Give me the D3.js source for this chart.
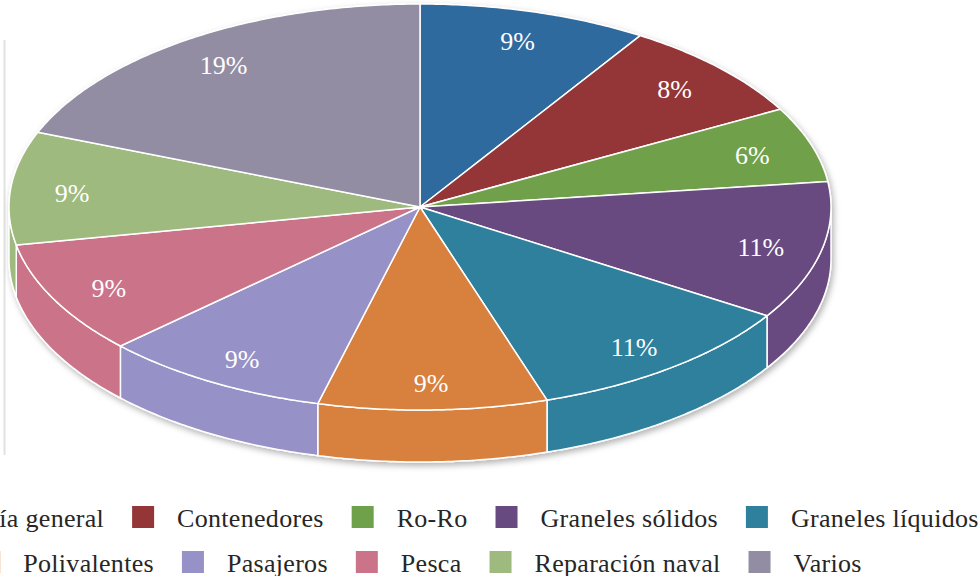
<!DOCTYPE html>
<html>
<head>
  <meta charset="utf-8">
  <title>Tráfico por tipo de terminal</title>
  <style>
    body { margin: 0; background: #fff; }
  </style>
</head>
<body>
  <script src="https://cdn.jsdelivr.net/npm/d3@7/dist/d3.min.js"></script>
  <script>
    // data
    var categories = ["Mercancía general", "Contenedores", "Ro-Ro", "Graneles sólidos", "Graneles líquidos",
                      "Polivalentes", "Pasajeros", "Pesca", "Reparación naval", "Varios"];
    var shares = [9, 8, 6, 11, 11, 9, 9, 9, 9, 19];
    var colors = ["#2E6A9D", "#943638", "#6FA04A", "#674A80", "#2F809D",
                  "#D8803D", "#9691C6", "#CA7389", "#9EBA7E", "#928DA3"];

    var width = 979, height = 576;
    var fontFamily = "Liberation Serif";
    // tilted pie geometry
    var cx = 420, cy = 207, rx = 411, ry = 203, depth = 52;

    var svg = d3.select("body").append("svg")
        .attr("width", width)
        .attr("height", height);

    var defs = svg.append("defs");
    var shadow = defs.append("filter").attr("id", "shadow")
        .attr("x", "-5%").attr("y", "-5%").attr("width", "110%").attr("height", "115%");
    shadow.append("feDropShadow")
        .attr("dx", 2).attr("dy", 3).attr("stdDeviation", 3)
        .attr("flood-color", "#000").attr("flood-opacity", 0.3);

    // faint frame line on the left
    svg.append("line")
        .attr("x1", 4.5).attr("x2", 4.5).attr("y1", 40).attr("y2", 455)
        .attr("stroke", "#e2e2e2").attr("stroke-width", 2);

    var data = categories.map(function(c, i) {
        return {name: c, value: shares[i], color: colors[i]};
    });
    var pie = d3.pie().sort(null).value(function(d) { return d.value; });
    var arcs = pie(data);

    // angle measured clockwise from 12 o'clock
    function pt(a, f, dz) {
        return [cx + rx * f * Math.sin(a), cy - ry * f * Math.cos(a) + (dz || 0)];
    }
    function arcPts(a0, a1, dz) {
        var n = Math.max(2, Math.ceil(Math.abs(a1 - a0) / 0.01));
        return d3.range(n + 1).map(function(i) {
            return pt(a0 + (a1 - a0) * i / n, 1, dz);
        });
    }
    var line = d3.line();

    var g = svg.append("g").attr("filter", "url(#shadow)");

    // side walls (front half only)
    g.append("g").attr("id", "sides")
        .selectAll("path")
        .data(arcs.filter(function(d) {
            return d.endAngle > Math.PI / 2 && d.startAngle < 3 * Math.PI / 2;
        }))
        .enter()
        .append("path")
        .attr("d", function(d) {
            var s = Math.max(d.startAngle, Math.PI / 2);
            var e = Math.min(d.endAngle, 3 * Math.PI / 2);
            var pts = arcPts(s, e, 0).concat(arcPts(e, s, depth));
            return line(pts) + "Z";
        })
        .attr("fill", function(d) { return d.data.color; })
        .attr("stroke", "#fff")
        .attr("stroke-width", 1.5)
        .attr("stroke-linejoin", "round");

    // top faces
    g.append("g").attr("id", "tops")
        .selectAll("path")
        .data(arcs)
        .enter()
        .append("path")
        .attr("d", function(d) {
            var pts = [[cx, cy]].concat(arcPts(d.startAngle, d.endAngle, 0));
            return line(pts) + "Z";
        })
        .attr("fill", function(d) { return d.data.color; })
        .attr("stroke", "#fff")
        .attr("stroke-width", 1.5)
        .attr("stroke-linejoin", "round");

    // percentage labels
    svg.append("g").attr("id", "labels")
        .selectAll("text")
        .data(arcs)
        .enter()
        .append("text")
        .attr("x", function(d) { return pt((d.startAngle + d.endAngle) / 2, 0.85)[0]; })
        .attr("y", function(d) { return pt((d.startAngle + d.endAngle) / 2, 0.86)[1] + 11; })
        .attr("text-anchor", "middle")
        .attr("font-family", fontFamily)
        .attr("fill", "#fff")
        .attr("font-size", 26)
        .text(function(d) { return d.data.value + "%"; });

    // legend, two centred rows
    var rows = [data.slice(0, 5), data.slice(5)];
    var rowY = [527, 572];
    var sw = 22, swGap = 23, itemGap = 28;
    rows.forEach(function(items, r) {
        var lg = svg.append("g").attr("class", "legend-row");
        var texts = lg.selectAll("text")
            .data(items)
            .enter()
            .append("text")
            .attr("font-family", fontFamily)
            .attr("font-size", 26)
            .attr("letter-spacing", 0.3)
            .attr("fill", "#262626")
            .text(function(d) { return d.name; });
        var widths = [];
        texts.each(function() { widths.push(this.getComputedTextLength()); });
        var total = d3.sum(widths) + items.length * (sw + swGap) + (items.length - 1) * itemGap;
        var x = cx - total / 2;
        var xs = widths.map(function(w) {
            var at = x;
            x += sw + swGap + w + itemGap;
            return at;
        });
        lg.selectAll("rect")
            .data(items)
            .enter()
            .append("rect")
            .attr("x", function(d, i) { return xs[i]; })
            .attr("y", rowY[r] - 21)
            .attr("width", sw)
            .attr("height", sw)
            .attr("fill", function(d) { return d.color; });
        texts.attr("x", function(d, i) { return xs[i] + sw + swGap; })
            .attr("y", rowY[r]);
    });
  </script>
</body>
</html>
